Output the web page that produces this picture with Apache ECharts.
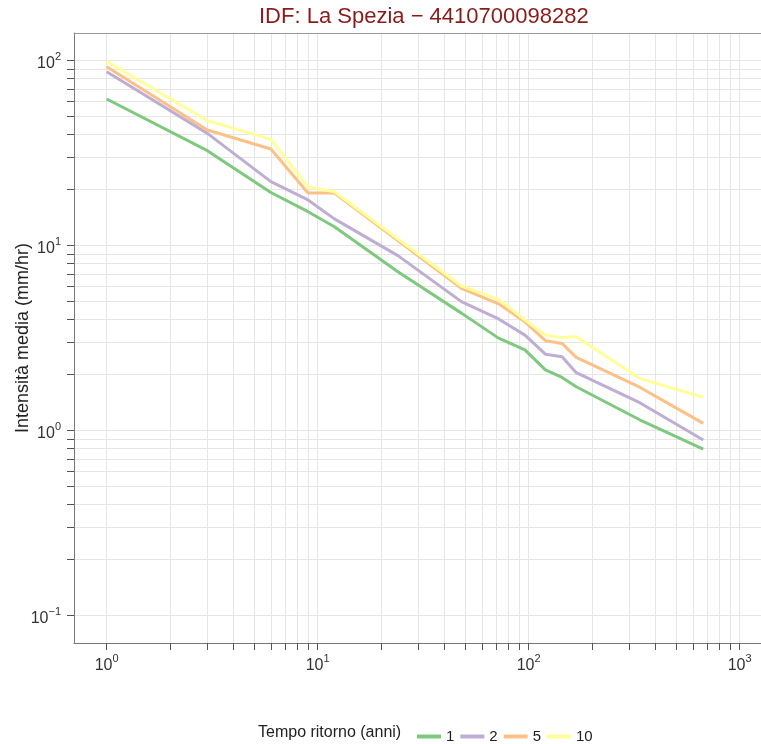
<!DOCTYPE html>
<html>
<head>
<meta charset="utf-8">
<title>IDF: La Spezia</title>
<script src="https://cdn.jsdelivr.net/npm/echarts@6/dist/echarts.min.js"></script>
<style>
  html, body { margin: 0; padding: 0; background: #fff; }
  #chart { width: 761px; height: 744px; }
</style>
</head>
<body>
<div id="chart"></div>
<script>
// durata (ore) e intensità media per tempo di ritorno
const durate = [1, 3, 6, 9, 12, 24, 48, 72, 96, 120, 144, 168, 336, 672]
const tr1 = [61.8, 32.5, 19.3, 15.2, 12.6, 7.2, 4.3, 3.15, 2.72, 2.12, 1.93, 1.72, 1.14, 0.79]
const tr2 = [86.8, 40.3, 22.1, 17.6, 13.9, 8.8, 4.96, 4.0, 3.27, 2.58, 2.5, 2.05, 1.41, 0.887]
const tr5 = [92.3, 42.0, 33.2, 19.2, 19.2, 10.6, 5.86, 4.83, 3.86, 3.05, 2.95, 2.48, 1.71, 1.09]
const tr10 = [99, 47.2, 37.4, 20.7, 19.5, 10.8, 6.03, 5.1, 3.95, 3.27, 3.17, 3.2, 1.91, 1.51]
const seriesNames = ['1', '2', '5', '10']
const xMajor = [1, 10, 100, 1000]
const yMajor = [0.1, 1, 10, 100]

const font = 'Liberation Sans, Arial, sans-serif'
const colors = ['#7fc97f', '#beaed4', '#fdc086', '#ffff99']

// tacche secondarie 1..9 x 10^k tra due potenze
function logTicks(from, to) {
    const out = []
    for (let k = from; k < to; k++) {
        for (let m = 1; m < 10; m++) out.push(Math.round(m * Math.pow(10, k) * 1e6) / 1e6)
    }
    out.push(Math.pow(10, to))
    return out
}

const supLabel = (v) => {
    const e = Math.round(Math.log10(v))
    return '{b|10}{s|' + (e < 0 ? '\u2212' + (-e) : e) + '}'
}
const labelRich = {
    b: { fontSize: 16, color: '#333', fontFamily: font, padding: [7, 0, 0, 0] },
    s: { fontSize: 11, color: '#333', fontFamily: font, padding: [0, 0, 7, 0] },
}

const chart = echarts.init(document.getElementById('chart'))
const allData = [tr1, tr2, tr5, tr10]

const option = {
    animation: false,
    title: {
        text: 'IDF: La Spezia \u2212 4410700098282',
        left: 254,
        top: 1,
        textStyle: { color: '#8b1a1a', fontSize: 22, fontWeight: 'normal', fontFamily: font },
    },
    graphic: [
        {
            type: 'text',
            left: 258,
            top: 725,
            style: { text: 'Tempo ritorno (anni)', fontSize: 16, fill: '#222', fontFamily: font },
        },
    ],
    legend: {
        data: seriesNames,
        left: 412,
        top: 724,
        icon: 'rect',
        itemWidth: 24,
        itemHeight: 4,
        itemGap: 6,
        textStyle: { fontSize: 15, color: '#222', fontFamily: font },
    },
    grid: {
        left: 74,
        top: 33,
        right: -20,
        bottom: 101,
        outerBoundsMode: 'none',
        containLabel: false,
    },
    xAxis: [
        {
            type: 'log',
            min: 0.7,
            max: 1570,
            axisLine: { lineStyle: { color: '#777' } },
            axisTick: { customValues: logTicks(0, 3), length: 7, lineStyle: { color: '#555' } },
            axisLabel: { customValues: xMajor, formatter: supLabel, rich: labelRich, margin: 8 },
            splitLine: { show: true, lineStyle: { color: '#e6e6e6' } },
        },
        {
            // solo il bordo superiore del pannello
            type: 'log',
            position: 'top',
            min: 0.7,
            max: 1570,
            axisLine: { show: true, lineStyle: { color: '#999' } },
            axisTick: { show: false },
            axisLabel: { show: false },
            splitLine: { show: false },
        },
    ],
    yAxis: {
        type: 'log',
        min: 0.0708,
        max: 140.6,
        name: 'Intensità media (mm/hr)',
        nameLocation: 'middle',
        nameGap: 42,
        nameMoveOverlap: false,
        nameTextStyle: { fontSize: 18, color: '#222', fontFamily: font },
        axisLine: { show: true, lineStyle: { color: '#777' } },
        axisTick: { show: true, customValues: logTicks(-1, 2), length: 7, lineStyle: { color: '#555' } },
        axisLabel: { customValues: yMajor, formatter: supLabel, rich: labelRich, margin: 13 },
        splitLine: { show: true, lineStyle: { color: '#e6e6e6' } },
    },
    series: seriesNames.map((name, i) => ({
        name: name,
        type: 'line',
        data: durate.map((d, j) => [d, allData[i][j]]),
        showSymbol: false,
        symbol: 'none',
        lineStyle: { width: 3, color: colors[i] },
        itemStyle: { color: colors[i] },
    })),
}
chart.setOption(option)
</script>
</body>
</html>
